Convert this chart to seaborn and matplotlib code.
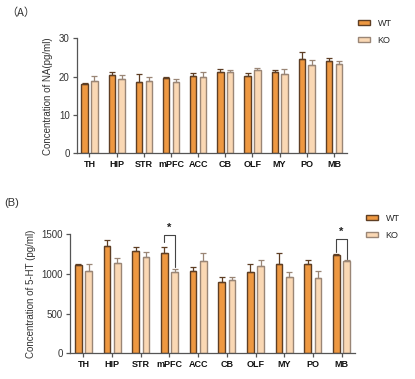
import matplotlib
matplotlib.use("Agg")
import matplotlib.pyplot as plt
import numpy as np
import pandas as pd
import seaborn as sns
from matplotlib.patches import Patch

regions = ["TH", "HIP", "STR", "mPFC", "ACC", "CB", "OLF", "MY", "PO", "MB"]
groups = ["WT", "KO"]

# (A) NA, pg/ml
na_wt = [18.0, 20.5, 18.7, 19.6, 20.3, 21.3, 20.3, 21.3, 24.6, 24.1]
na_wt_err = [0.3, 0.8, 2.1, 0.4, 0.6, 0.8, 0.7, 0.5, 1.9, 0.9]
na_ko = [18.8, 19.4, 19.0, 18.7, 19.8, 21.3, 21.7, 20.8, 23.0, 23.2]
na_ko_err = [1.4, 1.1, 0.8, 0.8, 1.3, 0.4, 0.7, 1.1, 1.4, 0.9]

# (B) 5-HT, pg/ml
ht_wt = [1116, 1350, 1287, 1262, 1029, 891, 1025, 1129, 1129, 1241]
ht_wt_err = [8, 75, 50, 75, 54, 71, 100, 129, 46, 9]
ht_ko = [1033, 1141, 1216, 1016, 1166, 920, 1096, 962, 950, 1158]
ht_ko_err = [92, 54, 54, 46, 100, 42, 83, 54, 91, 17]

# significance: region, bracket top, WT leg end, KO leg end
sig_regions = ["mPFC", "MB"]
sig_top = [1490, 1437]
sig_wt_end = [1405, 1270]
sig_ko_end = [1090, 1190]

fill = {"WT": "#EE9841", "KO": "#FAD8B4"}
edge = {"WT": "#5E3E24", "KO": "#9A8676"}
axis_col = "#555555"

sns.set_theme(style="white")
plt.rcParams["font.family"] = ["Liberation Sans", "DejaVu Sans"]

W, H = 415, 379
fig = plt.figure(figsize=(W / 100, H / 100), dpi=100)


def px_axes(x0, y_top, x1, y_bot):
    return fig.add_axes([x0 / W, 1 - y_bot / H, (x1 - x0) / W, (y_bot - y_top) / H])


def draw_panel(ax, wt, wt_err, ko, ko_err, ylim, yticks, ylabel):
    df = pd.DataFrame({
        "region": regions * 2,
        "group": ["WT"] * len(regions) + ["KO"] * len(regions),
        "value": list(wt) + list(ko),
    })
    sns.barplot(data=df, x="region", y="value", hue="group", order=regions,
                hue_order=groups, palette=fill, saturation=1, errorbar=None,
                width=0.72, gap=0.35, legend=False, linewidth=1.0, ax=ax)
    for cont, g, err in zip(ax.containers, groups, [wt_err, ko_err]):
        xs = [p.get_x() + p.get_width() / 2 for p in cont.patches]
        ys = [p.get_height() for p in cont.patches]
        for p in cont.patches:
            p.set_edgecolor(edge[g])
        ax.errorbar(xs, ys, yerr=[np.zeros(len(err)), err], fmt="none",
                    ecolor=edge[g], elinewidth=0.9, capsize=2, capthick=0.9, zorder=1)
    ax.set_xlim(-0.47, len(regions) - 0.53)
    ax.set_ylim(*ylim)
    ax.set_yticks(yticks)
    ax.set_xlabel("")
    ax.set_ylabel(ylabel, fontsize=7, color="#333333", labelpad=4)
    for s in ["top", "right"]:
        ax.spines[s].set_visible(False)
    for s in ["left", "bottom"]:
        ax.spines[s].set_color(axis_col)
        ax.spines[s].set_linewidth(0.9)
    ax.tick_params(axis="both", length=3, width=0.9, color=axis_col, pad=2,
                   bottom=True, left=True)
    ax.tick_params(axis="y", labelsize=7, labelcolor="#333333")
    ax.tick_params(axis="x", labelsize=6.5, labelcolor="#111111")
    for t in ax.get_xticklabels():
        t.set_fontweight("bold")


def add_legend(x, y):
    handles = [Patch(facecolor=fill[g], edgecolor=edge[g], linewidth=1.0, label=g)
               for g in groups]
    fig.legend(handles=handles, loc="upper left", bbox_to_anchor=(x / W, 1 - y / H),
               frameon=False, fontsize=6.5, handlelength=1.4, handleheight=0.5,
               labelspacing=0.9, handletextpad=0.8, borderaxespad=0)


# (A)
ax_a = px_axes(76.7, 38.4, 346.7, 153.3)
draw_panel(ax_a, na_wt, na_wt_err, na_ko, na_ko_err, (0, 30), [0, 10, 20, 30],
           "Concentration of NA(pg/ml)")
fig.text(6 / W, 1 - 13 / H, "（A）", fontsize=8, color="#333333", va="center",
         family=["Noto Sans CJK SC", "DejaVu Sans"])
add_legend(354, 15)

# (B)
ax_b = px_axes(70, 234, 355, 353.3)
draw_panel(ax_b, ht_wt, ht_wt_err, ht_ko, ht_ko_err, (0, 1500), [0, 500, 1000, 1500],
           "Concentration of 5-HT (pg/ml)")
fig.text(4 / W, 1 - 203 / H, "(B)", fontsize=8, color="#333333", va="center")
add_legend(362, 210)

for reg, top, wt_end, ko_end in zip(sig_regions, sig_top, sig_wt_end, sig_ko_end):
    i = regions.index(reg)
    x_wt = ax_b.containers[0].patches[i]
    x_ko = ax_b.containers[1].patches[i]
    xa = x_wt.get_x() + x_wt.get_width() / 2
    xb = x_ko.get_x() + x_ko.get_width() / 2
    ax_b.plot([xa, xa, xb, xb], [wt_end, top, top, ko_end], color="#444444",
              lw=0.8, clip_on=False)
    ax_b.text((xa + xb) / 2, top + 25, "*", ha="center", va="bottom",
              fontsize=8, fontweight="bold", color="#222222", clip_on=False)

fig.savefig("out.png", dpi=100)
